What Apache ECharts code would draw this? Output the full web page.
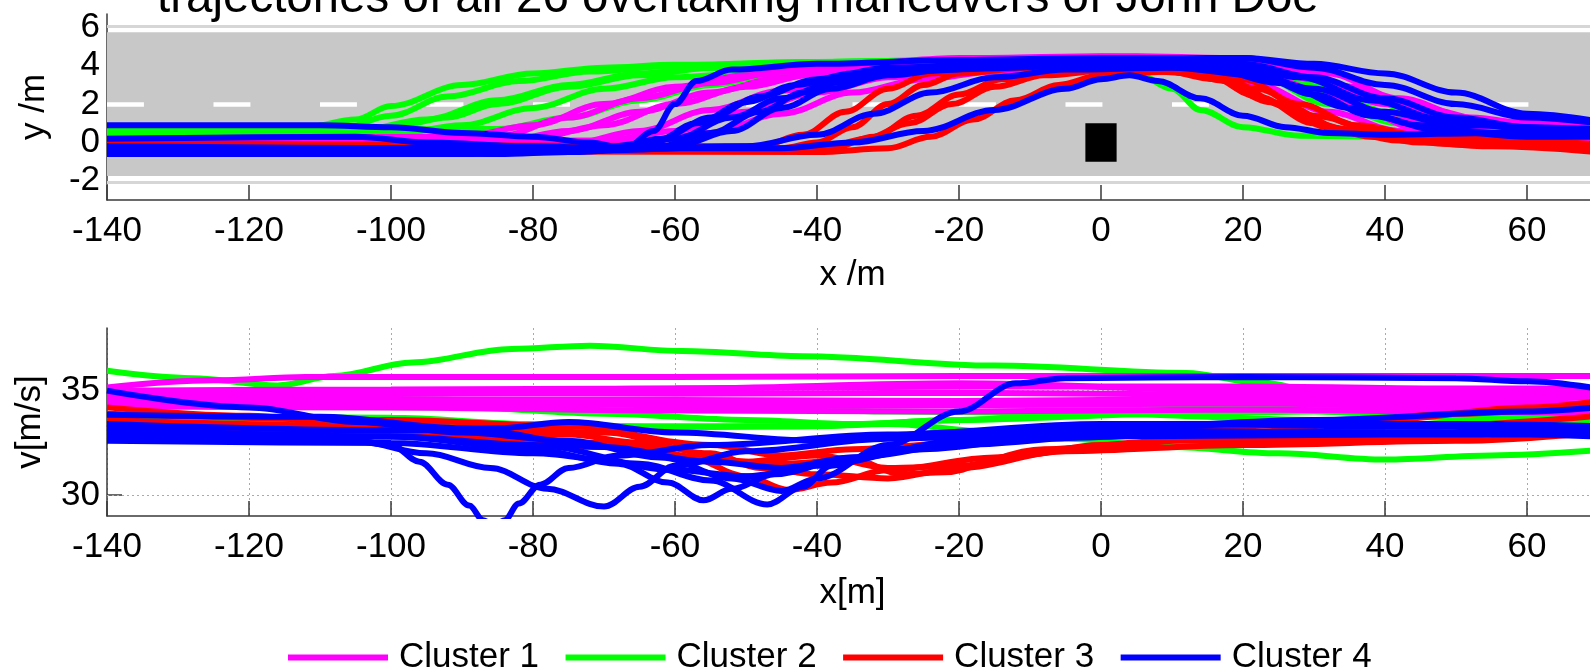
<!DOCTYPE html>
<html><head><meta charset="utf-8">
<script src="https://cdn.jsdelivr.net/npm/echarts@6/dist/echarts.min.js"></script>
<style>html,body{margin:0;padding:0;background:#fff}#c{width:1590px;height:669px}</style>
</head><body><div id="c"></div>
<script>
// ---------- text ----------
const titleText = 'trajectories of all 26 overtaking maneuvers of John Doe';
const clusterNames = ['Cluster 1', 'Cluster 2', 'Cluster 3', 'Cluster 4'];
const topXName = 'x /m', topYName = 'y /m', botXName = 'x[m]', botYName = 'v[m/s]';

// ---------- axes / ticks ----------
const xMin = -140, xMax = 70, xStep = 20;
const yTopMin = -3, yTopMax = 6.7;
const yTopTicks = [-2, 0, 2, 4, 6];
const vMin = 29, vMax = 38;
const vTicks = [30, 35];

// ---------- road scene (top plot) ----------
const roadBand = [-1.75, 5.75];
const roadEdges = [6.05, -2.05];
const centerLineY = 2;
const dashStarts = [-140, -125, -110, -95, -80, -65, -50, -35, -20, -5, 10, 25, 40, 55, 70];
const dashLength = 5.2;
const obstacle = [[-2.2, -1], [2.2, 1]];

// ---------- lateral position y(x) per cluster ----------
const cluster1Y = [
 [[-140,0.0],[-95,0.0],[-85,0.3],[-75,1.3],[-65,2.3],[-55,3.1],[-45,3.7],[-35,4.1],[-20,4.4],[0,4.5],[15,4.4],[25,3.9],[35,2.9],[45,1.8],[55,1.1],[70,0.9]],
 [[-140,-0.1],[-85,0.0],[-75,0.6],[-65,1.6],[-55,2.6],[-45,3.4],[-35,3.9],[-20,4.2],[0,4.3],[20,4.2],[30,3.3],[40,2.0],[50,1.0],[60,0.5],[70,0.4]],
 [[-140,0.1],[-80,0.2],[-70,0.9],[-60,2.0],[-50,2.9],[-40,3.6],[-30,4.0],[-10,4.3],[10,4.2],[22,3.6],[32,2.4],[42,1.2],[52,0.4],[70,0.0]],
 [[-140,-0.2],[-75,-0.1],[-65,0.6],[-55,1.7],[-45,2.7],[-35,3.5],[-25,3.9],[-10,4.1],[10,4.2],[25,3.9],[35,2.9],[45,1.6],[55,0.6],[70,0.1]],
 [[-140,0.0],[-70,0.1],[-60,0.6],[-50,1.6],[-40,2.6],[-30,3.4],[-20,3.8],[0,4.0],[15,3.9],[25,3.2],[35,1.9],[45,0.7],[55,0.2],[70,0.1]],
 [[-140,0.2],[-90,0.3],[-80,0.9],[-70,2.0],[-60,2.9],[-50,3.5],[-40,3.9],[-20,4.3],[5,4.5],[20,4.4],[32,3.6],[42,2.3],[52,1.3],[62,0.9],[70,0.8]],
 [[-140,-0.05],[-65,0.0],[-55,0.5],[-45,1.5],[-35,2.6],[-25,3.3],[-15,3.7],[0,3.9],[12,3.8],[22,3.0],[32,1.6],[42,0.6],[52,0.2],[70,0.2]]
];
const cluster2Y = [
 [[-140,0.8],[-112,0.8],[-105,1.2],[-100,1.9],[-90,3.0],[-80,3.6],[-70,3.9],[-60,4.05],[-40,4.2],[-20,4.3],[0,4.4],[15,4.3],[25,3.6],[35,2.0],[45,1.0],[55,0.6],[70,0.4]],
 [[-140,0.5],[-105,0.6],[-95,1.2],[-85,2.2],[-75,3.0],[-65,3.6],[-55,3.9],[-40,4.1],[-20,4.2],[0,4.3],[10,4.2],[22,3.5],[32,2.0],[42,1.0],[55,0.7],[70,0.6]],
 [[-140,0.3],[-100,0.4],[-90,0.9],[-80,1.8],[-70,2.8],[-60,3.4],[-45,3.8],[-30,3.9],[-10,3.9],[5,3.6],[10,2.8],[14,1.7],[20,0.8],[28,0.35],[40,0.3],[55,0.4],[70,0.4]],
 [[-140,0.7],[-100,0.8],[-92,1.3],[-85,2.0],[-75,2.9],[-65,3.5],[-55,3.9],[-40,4.2],[-20,4.3],[0,4.4],[20,4.1],[30,3.0],[40,1.6],[50,0.9],[70,0.6]],
 [[-140,0.6],[-85,0.7],[-75,1.3],[-65,2.2],[-55,3.0],[-45,3.6],[-35,4.0],[-20,4.2],[0,4.3],[18,4.1],[28,3.0],[38,1.5],[48,0.8],[70,0.5]],
 [[-140,0.4],[-108,0.6],[-100,1.4],[-92,2.4],[-82,3.2],[-72,3.7],[-60,4.0],[-40,4.2],[-10,4.3],[10,4.3],[25,3.9],[35,2.8],[45,1.4],[55,0.9],[70,0.8]]
];
const cluster3Y = [
 [[-140,-0.1],[-60,-0.3],[-45,-0.3],[-40,0.0],[-35,0.8],[-30,2.0],[-25,3.0],[-20,3.6],[-10,3.9],[5,3.9],[15,3.5],[22,2.4],[30,1.0],[38,0.3],[50,-0.1],[70,-0.4]],
 [[-140,-0.2],[-50,-0.4],[-38,-0.3],[-32,0.3],[-26,1.4],[-20,2.5],[-14,3.3],[-5,3.7],[8,3.8],[16,3.3],[24,2.1],[32,0.8],[42,0.1],[55,-0.2],[70,-0.5]],
 [[-140,-0.4],[-40,-0.5],[-30,-0.3],[-24,0.3],[-18,1.2],[-12,2.2],[-6,3.0],[0,3.5],[10,3.7],[18,3.2],[26,1.9],[34,0.7],[45,0.0],[70,-0.3]],
 [[-140,0.0],[-48,-0.2],[-42,0.4],[-36,1.6],[-30,2.8],[-24,3.6],[-15,4.0],[0,4.1],[12,3.9],[20,3.3],[28,2.0],[36,0.9],[46,0.3],[70,-0.1]],
 [[-140,-0.3],[-40,-0.4],[-33,0.2],[-27,1.0],[-21,2.0],[-15,2.9],[-8,3.5],[2,3.8],[14,3.6],[22,2.8],[30,1.4],[40,0.5],[55,0.0],[70,-0.2]]
];
const cluster4Y = [
 [[-140,0.9],[-110,0.9],[-100,0.8],[-90,0.5],[-80,0.3],[-72,0.0],[-67,-0.3],[-63,0.6],[-60,2.0],[-57,3.2],[-52,3.8],[-40,4.1],[-20,4.3],[0,4.4],[20,4.4],[30,3.9],[40,3.0],[50,2.0],[60,1.3],[70,1.0]],
 [[-140,-0.4],[-70,-0.4],[-62,0.2],[-55,1.3],[-48,2.4],[-40,3.3],[-30,3.9],[-10,4.2],[10,4.4],[20,4.4],[30,4.1],[40,3.6],[50,2.6],[60,1.5],[70,1.1]],
 [[-140,-0.3],[-45,-0.3],[-35,0.0],[-25,0.6],[-15,1.7],[-5,2.8],[0,3.3],[4,3.5],[8,3.2],[14,2.3],[20,1.4],[26,0.8],[32,0.5],[40,0.4],[55,0.5],[70,0.6]],
 [[-140,-0.5],[-100,-0.5],[-85,-0.6],[-75,-0.5],[-60,-0.2],[-52,0.6],[-45,1.8],[-38,2.8],[-30,3.5],[-20,3.9],[0,4.1],[18,4.1],[28,3.4],[38,2.2],[48,1.2],[60,0.7],[70,0.5]],
 [[-140,-0.35],[-100,-0.3],[-90,-0.2],[-80,-0.3],[-62,-0.2],[-55,0.5],[-48,1.6],[-42,2.6],[-35,3.4],[-25,3.8],[0,4.0],[15,3.9],[25,3.1],[35,1.8],[45,0.9],[55,0.5],[70,0.4]],
 [[-140,-0.2],[-95,-0.3],[-85,-0.5],[-70,-0.4],[-50,-0.2],[-40,0.4],[-32,1.5],[-24,2.6],[-15,3.4],[-5,3.8],[10,3.9],[22,3.5],[30,2.5],[38,1.4],[48,0.6],[60,0.3],[70,0.3]],
 [[-140,-0.6],[-90,-0.6],[-75,-0.5],[-63,0.0],[-57,1.0],[-50,2.1],[-43,3.0],[-35,3.6],[-20,4.0],[5,4.2],[20,4.1],[30,3.4],[40,2.3],[50,1.3],[60,0.8],[70,0.7]],
 [[-140,0.2],[-105,0.3],[-95,0.0],[-80,-0.2],[-70,-0.3],[-60,0.2],[-52,1.3],[-45,2.3],[-38,3.1],[-28,3.7],[-10,4.0],[8,4.1],[20,3.8],[30,2.8],[40,1.6],[50,0.9],[70,0.6]]
];

// ---------- speed v(x) per cluster ----------
const cluster1V = [
 [[-140,35.15],[-125,35.5],[-112,35.65],[-60,35.65],[-20,35.7],[20,35.7],[70,35.7]],
 [[-140,35.0],[-100,35.05],[-60,35.1],[-20,35.2],[20,35.2],[50,35.1],[70,35.1]],
 [[-140,34.85],[-100,34.9],[-60,34.85],[-20,34.9],[20,34.8],[50,34.7],[70,34.7]],
 [[-140,34.6],[-100,34.6],[-60,34.55],[-20,34.5],[20,34.6],[50,34.45],[70,34.4]],
 [[-140,34.4],[-100,34.4],[-60,34.3],[-20,34.3],[20,34.4],[50,34.2],[70,34.1]],
 [[-140,34.25],[-100,34.2],[-60,34.05],[-20,34.0],[20,34.1],[50,34.0],[70,33.9]],
 [[-140,34.95],[-100,34.95],[-60,35.1],[-20,35.35],[20,35.0],[50,34.9],[70,34.9]]
];
const cluster2V = [
 [[-140,35.95],[-128,35.6],[-116,35.25],[-108,35.7],[-97,36.35],[-83,37.0],[-72,37.15],[-59,36.9],[-42,36.65],[-15,36.2],[12,35.85],[22,35.4],[35,34.6],[52,33.7],[70,33.7]],
 [[-140,33.55],[-120,33.5],[-100,33.4],[-80,33.3],[-60,33.3],[-45,33.3],[-30,33.4],[-14,33.0],[-5,32.7],[10,32.3],[25,32.0],[40,31.7],[55,31.9],[70,32.15]],
 [[-140,34.5],[-100,34.5],[-70,34.45],[-50,34.2],[-30,34.0],[0,33.9],[30,33.6],[55,33.3],[70,33.4]],
 [[-140,34.8],[-100,34.6],[-70,34.4],[-40,34.4],[-10,34.3],[20,34.2],[40,33.9],[55,33.5],[70,33.4]],
 [[-140,33.8],[-100,33.7],[-80,33.4],[-60,33.25],[-40,33.3],[-20,33.6],[10,33.9],[30,34.0],[50,33.7],[70,33.6]],
 [[-140,34.3],[-90,34.2],[-70,33.9],[-50,33.6],[-35,33.4],[-20,33.6],[0,34.0],[25,34.3],[45,33.9],[70,33.8]]
];
const cluster3V = [
 [[-140,34.2],[-120,33.8],[-100,33.0],[-85,32.85],[-75,32.9],[-65,32.5],[-58,31.8],[-50,30.9],[-44,30.25],[-38,30.6],[-30,31.2],[-15,31.8],[0,32.3],[20,33.0],[40,33.6],[60,34.2],[70,34.5]],
 [[-140,33.6],[-100,33.3],[-70,33.0],[-55,32.0],[-48,31.3],[-40,31.0],[-30,30.8],[-20,31.3],[-5,32.1],[20,32.4],[50,32.6],[70,33.0]],
 [[-140,33.4],[-100,33.0],[-70,32.5],[-55,31.7],[-45,31.5],[-35,31.7],[-28,31.0],[-22,31.1],[-12,31.9],[0,32.4],[20,32.8],[40,33.2],[70,33.8]],
 [[-140,33.0],[-100,32.9],[-70,32.3],[-50,31.6],[-40,31.9],[-30,31.3],[-20,31.4],[-8,32.2],[10,32.6],[40,32.7],[70,33.3]],
 [[-140,33.9],[-100,33.6],[-75,33.3],[-55,32.4],[-45,31.9],[-35,32.2],[-20,32.5],[0,32.9],[30,33.4],[50,33.9],[70,34.4]]
];
const cluster4V = [
 [[-140,33.0],[-110,32.9],[-100,32.4],[-96,31.6],[-92,30.5],[-89,29.5],[-87,28.8],[-85.5,28.5],[-84,28.8],[-82,29.6],[-79,30.5],[-75,31.3],[-68,31.9],[-55,32.4],[-30,32.9],[0,33.4],[30,33.4],[70,33.2]],
 [[-140,32.8],[-105,32.6],[-95,32.0],[-86,31.3],[-78,30.3],[-70,29.45],[-65,30.4],[-60,31.4],[-50,32.1],[-30,32.7],[0,33.1],[40,33.0],[70,32.9]],
 [[-140,33.2],[-100,32.8],[-80,32.2],[-68,31.5],[-61,30.6],[-56,29.75],[-52,30.3],[-46,31.0],[-35,31.8],[-20,32.4],[0,32.8],[40,32.9],[70,32.9]],
 [[-140,32.6],[-100,32.5],[-80,32.0],[-65,31.5],[-55,30.7],[-47,29.55],[-42,30.4],[-38,31.4],[-30,32.2],[-10,32.7],[20,33.0],[50,33.0],[70,32.8]],
 [[-140,35.0],[-120,34.2],[-105,33.5],[-90,33.0],[-75,32.6],[-62,31.8],[-52,30.8],[-45,30.2],[-40,30.8],[-30,32.4],[-20,34.0],[-12,35.35],[-5,35.6],[20,35.65],[50,35.6],[60,35.45],[70,35.1]],
 [[-140,33.85],[-110,33.75],[-90,33.2],[-70,32.3],[-55,31.6],[-45,31.3],[-35,31.8],[-20,32.6],[0,33.2],[30,33.6],[60,34.0],[70,34.2]],
 [[-140,32.9],[-100,32.8],[-80,32.4],[-60,31.2],[-50,30.9],[-40,31.4],[-25,32.2],[-5,32.9],[20,33.4],[50,33.4],[70,33.3]],
 [[-140,33.4],[-100,33.1],[-85,33.2],[-75,33.5],[-60,33.0],[-40,32.6],[-20,33.0],[10,33.4],[40,33.3],[70,33.1]]
];

// ---------- styling ----------
const FONT = '"Liberation Sans", Arial, Helvetica, sans-serif';
const clusterColors = ['#ff00ff', '#00ff00', '#ff0000', '#0000ff'];
const drawOrder = [1, 0, 2, 3]; // green, magenta, red, blue
const AX = '#3a3a3a';
const lateral = [cluster1Y, cluster2Y, cluster3Y, cluster4Y];
const speed = [cluster1V, cluster2V, cluster3V, cluster4V];

const series = [];

// road background
const laneMarks = [
  {yAxis: roadEdges[0], lineStyle: {color: '#d6d6d6', width: 3, type: 'solid'}},
  {yAxis: roadEdges[1], lineStyle: {color: '#d6d6d6', width: 3, type: 'solid'}}
];
dashStarts.forEach(s => {
  laneMarks.push([
    {coord: [s, centerLineY], lineStyle: {color: '#ffffff', width: 4.5, type: 'solid'}},
    {coord: [Math.min(s + dashLength, xMax), centerLineY]}
  ]);
});
series.push({
  type: 'line', name: 'road', xAxisIndex: 0, yAxisIndex: 0, data: [], silent: true, z: 1,
  markArea: {silent: true, z: 1, itemStyle: {color: '#c8c8c8'}, label: {show: false},
    data: [[{coord: [xMin, roadBand[0]]}, {coord: [xMax, roadBand[1]]}]]},
  markLine: {silent: true, z: 2, symbol: 'none', animation: false, label: {show: false},
    lineStyle: {type: 'solid'}, emphasis: {disabled: true}, data: laneMarks}
});
// obstacle
series.push({
  type: 'line', name: 'obstacle', xAxisIndex: 0, yAxisIndex: 0, data: [], silent: true, z: 4,
  markArea: {silent: true, z: 4, itemStyle: {color: '#000000'}, label: {show: false},
    data: [[{coord: obstacle[0]}, {coord: obstacle[1]}]]}
});
// speed grid lines
series.push({
  type: 'line', name: 'vgrid', xAxisIndex: 1, yAxisIndex: 1, data: [], silent: true, z: 1,
  markLine: {silent: true, z: 1, symbol: 'none', animation: false, label: {show: false},
    lineStyle: {type: [2, 3], color: '#aaaaaa', width: 1},
    data: vTicks.map(v => ({yAxis: v}))}
});

function addLines(groups, xi, yi) {
  drawOrder.forEach(c => {
    groups[c].forEach(tr => {
      series.push({
        type: 'line', name: clusterNames[c], xAxisIndex: xi, yAxisIndex: yi,
        data: tr, smooth: 0.35, smoothMonotone: 'x', symbol: 'none', showSymbol: false,
        lineStyle: {width: 6, color: clusterColors[c]}, itemStyle: {color: clusterColors[c]},
        z: 3, silent: true, animation: false, clip: true, emphasis: {disabled: true}
      });
    });
  });
}
addLines(lateral, 0, 0);
addLines(speed, 1, 1);

const labelStyle = {fontSize: 35, color: '#000', fontFamily: FONT};

const option = {
  backgroundColor: '#ffffff',
  animation: false,
  title: {text: titleText, left: 157, top: -25, padding: 0,
    textStyle: {fontSize: 47.5, fontWeight: 'normal', color: '#000', fontFamily: FONT}},
  legend: {
    data: clusterNames, left: 283, top: 635, orient: 'horizontal',
    icon: 'rect', itemWidth: 100, itemHeight: 6, itemGap: 26.5, selectedMode: false,
    textStyle: Object.assign({padding: [0, 0, 0, 6]}, labelStyle)
  },
  grid: [
    {left: 107, top: 14, width: 1491, height: 186, outerBoundsMode: 'none', containLabel: false},
    {left: 107, top: 328, width: 1491, height: 188, outerBoundsMode: 'none', containLabel: false}
  ],
  xAxis: [0, 1].map(i => ({
    type: 'value', gridIndex: i, min: xMin, max: xMax, interval: xStep,
    name: i === 0 ? topXName : botXName, nameLocation: 'middle', nameGap: i === 0 ? 58 : 60,
    nameTextStyle: labelStyle,
    axisLine: {show: true, onZero: false, lineStyle: {color: AX, width: 1.5}},
    axisTick: {show: true, inside: true, length: 15, lineStyle: {color: AX, width: 1.5}},
    axisLabel: Object.assign({margin: 14, showMaxLabel: false, showMinLabel: true}, labelStyle),
    splitLine: {show: i === 1, lineStyle: {type: [2, 3], color: '#aaaaaa', width: 1}}
  })),
  yAxis: [
    {type: 'value', gridIndex: 0, min: yTopMin, max: yTopMax,
      name: topYName, nameLocation: 'middle', nameGap: 55, nameTextStyle: labelStyle,
      axisLine: {show: true, onZero: false, lineStyle: {color: AX, width: 1.5}},
      axisTick: {show: false},
      axisLabel: Object.assign({margin: 7, customValues: yTopTicks}, labelStyle),
      splitLine: {show: false}},
    {type: 'value', gridIndex: 1, min: vMin, max: vMax,
      name: botYName, nameLocation: 'middle', nameGap: 59, nameTextStyle: labelStyle,
      axisLine: {show: true, onZero: false, lineStyle: {color: AX, width: 1.5}},
      axisTick: {show: true, inside: true, length: 15, customValues: vTicks, lineStyle: {color: AX, width: 1.5}},
      axisLabel: Object.assign({margin: 7, customValues: vTicks}, labelStyle),
      splitLine: {show: false}}
  ],
  series: series
};

const chart = echarts.init(document.getElementById('c'), null, {renderer: 'canvas'});
chart.setOption(option);
</script>
</body></html>
